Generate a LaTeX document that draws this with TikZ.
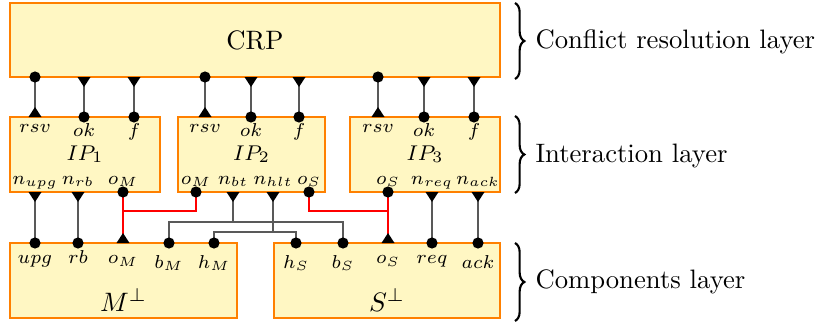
\documentclass[tikz,border=0pt]{standalone}
\usetikzlibrary{decorations.pathreplacing}
\definecolor{boxfill}{RGB}{255,247,195}
\definecolor{boxline}{RGB}{255,128,0}
\tikzset{
  block/.style={draw=boxline, fill=boxfill, line width=1pt, inner sep=0pt},
  wire/.style={black!65, line width=0.8pt},
  redwire/.style={red, line width=0.8pt},
  port/.style={font=\fontsize{7.5}{9}\selectfont, anchor=base, inner sep=0pt},
  title/.style={font=\footnotesize, anchor=base, inner sep=0pt},
  layer/.style={anchor=base west, inner sep=0pt},
  lbrace/.style={decorate, decoration={brace, amplitude=3.5pt}, thick},
  tdown/.pic={\fill (-6.5,0) -- (6.5,0) -- (0,10) -- cycle;},
  tup/.pic={\fill (-6.5,0) -- (6.5,0) -- (0,-10) -- cycle;},
}
\begin{document}
\begin{tikzpicture}[x=0.375pt, y=-0.375pt]
\useasboundingbox (0,0) rectangle (816,325);
% Boites
\node[block, minimum width=183.75pt, minimum height=27.75pt] (crp) at (255,40) {CRP};
\node[block, minimum width=56.25pt, minimum height=28.1pt] (ip1) at (85,154.5) {};
\node[block, minimum width=55.1pt, minimum height=28.1pt] (ip2) at (251.5,154.5) {};
\node[block, minimum width=56.25pt, minimum height=28.1pt] (ip3) at (425,154.5) {};
\node[block, minimum width=85.1pt, minimum height=28.1pt] (mb) at (123.5,280.5) {};
\node[block, minimum width=84.75pt, minimum height=28.1pt] (sb) at (387,280.5) {};
\node[title] (ip1t) at (85,160) {$IP_1$};
\node[title] (ip2t) at (251.5,160) {$IP_2$};
\node[title] (ip3t) at (425,160) {$IP_3$};
\node[anchor=base, inner sep=0pt] (mt) at (123.5,311) {$M^\perp$};
\node[anchor=base, inner sep=0pt] (st) at (387,311) {$S^\perp$};
% CRP <-> IP
\foreach \n/\x in {r1/35,k1/84,f1/134,r2/205,k2/251,f2/299,r3/378,k3/424,f3/474}{
  \coordinate (c\n) at (\x,77);
  \coordinate (i\n) at (\x,117);
  \draw[wire] (c\n) -- (i\n);
}
\foreach \n in {r1,r2,r3}{\fill (c\n) circle (2.1pt); \pic at (i\n) {tup};}
\foreach \n in {k1,f1,k2,f2,k3,f3}{\pic at (c\n) {tdown}; \fill (i\n) circle (2.1pt);}
% IP <-> composants
\foreach \n/\x in {upg/35,rb/78,req/432,ack/478}{
  \coordinate (n\n) at (\x,192);
  \coordinate (m\n) at (\x,243);
  \draw[wire] (n\n) -- (m\n);
  \pic at (n\n) {tdown};
  \fill (m\n) circle (2.1pt);
}
% Ports o_M / o_S
\coordinate (ip1oM) at (123,192);
\coordinate (ip2oM) at (196,192);
\coordinate (moM) at (123,243);
\coordinate (jM) at (123,211);
\coordinate (ip2oS) at (309,192);
\coordinate (ip3oS) at (388,192);
\coordinate (soS) at (388,243);
\coordinate (jS) at (388,211);
\draw[redwire] (ip1oM) -- (moM);
\draw[redwire] (ip2oM) |- (jM);
\draw[redwire] (ip3oS) -- (soS);
\draw[redwire] (ip2oS) |- (jS);
% n_bt / n_hlt
\coordinate (ip2bt) at (233,192);
\coordinate (ip2hlt) at (273,192);
\coordinate (mbM) at (169,243);
\coordinate (mhM) at (214,243);
\coordinate (shS) at (296,243);
\coordinate (sbS) at (343,243);
\coordinate (jb) at (233,222);
\coordinate (jh) at (273,232);
\draw[wire] (ip2bt) -- (jb);
\draw[wire] (mbM) |- (jb) -| (sbS);
\draw[wire] (ip2hlt) -- (jh);
\draw[wire] (mhM) |- (jh) -| (shS);
\foreach \p in {ip1oM,ip2oM,ip2oS,ip3oS,mbM,mhM,shS,sbS} \fill (\p) circle (2.1pt);
\foreach \p in {ip2bt,ip2hlt} \pic at (\p) {tdown};
\foreach \p in {moM,soS} \pic at (\p) {tup};
% Etiquettes des ports
\foreach \x in {35,205,378} \node[port] at (\x,133) {$rsv$};
\foreach \x in {84,251,424} \node[port] at (\x,136) {$ok$};
\foreach \x in {134,299,474} \node[port] at (\x,136) {$f$};
\foreach \x/\t in {35/n_{upg},78/n_{rb},123/o_M,196/o_M,233/n_{bt},273/n_{hlt},309/o_S,388/o_S,432/n_{req},478/n_{ack}}
  \node[port] at (\x,184) {$\t$};
\foreach \x/\t in {35/upg,78/rb,123/o_M,388/o_S,432/req}
  \node[port] at (\x,264) {$\t$};
\foreach \x/\t in {169/b_M,214/h_M,296/h_S,343/b_S,478/ack}
  \node[port] at (\x,268) {$\t$};
% Couches
\draw[lbrace] (515,3) -- (515,79);
\draw[lbrace] (515,116) -- (515,193);
\draw[lbrace] (515,243) -- (515,321);
\node[layer] (l1) at (535,48) {Conflict resolution layer};
\node[layer] (l2) at (535,162) {Interaction layer};
\node[layer] (l3) at (535,288) {Components layer};
\end{tikzpicture}
\end{document}
